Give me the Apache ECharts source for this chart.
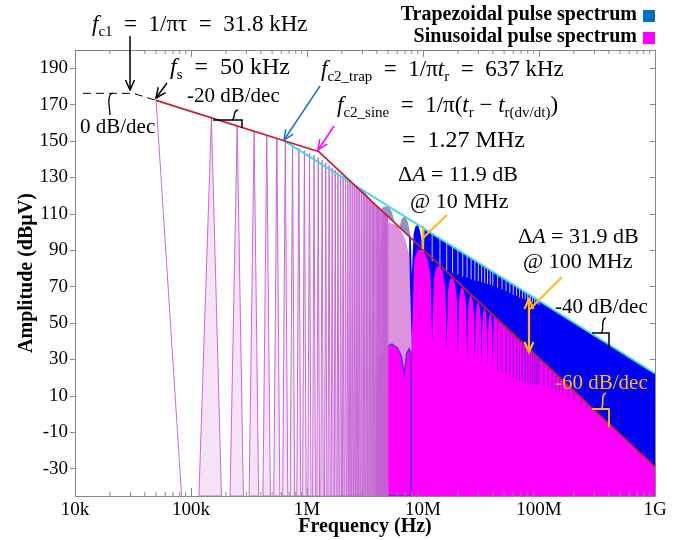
<!DOCTYPE html>
<html>
<head>
<meta charset="utf-8">
<script src="https://cdn.jsdelivr.net/npm/echarts@6/dist/echarts.min.js"></script>
<style>
  html, body { margin: 0; padding: 0; background: #fff; }
  #main { width: 696px; height: 540px; }
</style>
</head>
<body>
<div id="main"></div>
<script>
// ---- data ----
// x ticks (Hz) and their labels
var xTickHz = [1e4, 1e5, 1e6, 1e7, 1e8, 1e9];
var xTickText = ['10k', '100k', '1M', '10M', '100M', '1G'];
var minorMult = [2, 3, 4, 5, 6, 7, 8, 9];
var yTicks = [-30, -10, 10, 30, 50, 70, 90, 110, 130, 150, 170, 190];

// asymptotes (Hz, dBuV)
var flatAsymptote = [[11.7e3, 176.2], [31.8e3, 176.2], [50e3, 172.3]];
var sineEnvelope = [[50e3, 172.3], [1.27e6, 144.1], [1e9, -29]];
var trapEnvelope = [[0.637e6, 150.1], [1e9, 22.3]];

// odd harmonics of the 50 kHz pulse train (kHz) and their peak level (dBuV)
var harmonicKHz = [50, 150, 250, 350, 450, 550, 650, 750, 850, 950,
  1050, 1150, 1250, 1350, 1450, 1550, 1650, 1750, 1850, 1950,
  2050, 2150, 2250, 2350, 2450, 2550, 2650, 2750, 2850, 2950,
  3050, 3150, 3250, 3350, 3450, 3550, 3650, 3750, 3850, 3950,
  4050, 4150, 4250, 4350, 4450, 4550, 4650, 4750, 4850, 4950];
var harmonicPeak = [172.3, 162.8, 158.3, 155.4, 153.2, 151.5, 150.0, 148.0, 146.2, 144.7,
  143.4, 142.2, 141.0, 139.5, 138.0, 136.6, 135.3, 134.0, 132.8, 131.7,
  130.6, 129.6, 128.6, 127.6, 127.0, 125.9, 124.9, 124.0, 123.0, 122.1,
  121.3, 120.4, 119.6, 118.8, 118.1, 117.3, 116.6, 115.9, 115.2, 114.5,
  113.9, 113.2, 112.6, 112.0, 111.4, 110.8, 110.3, 109.7, 109.2, 108.6];

// trapezoidal spectrum: lobes that rise above the sine envelope (MHz, dBuV)
var trapLobes = [[2.5, 126.4], [2.8, 123.9], [3.1, 122.5], [3.4, 119.2], [3.7, 116.2], [4, 114.2],
  [4.3, 112.4], [4.6, 113.9], [5, 114.3], [5.4, 111.2], [5.7, 105], [6, 103.6],
  [6.3, 103.3], [6.6, 107.7], [7, 108.5], [7.4, 105.7], [7.7, 99.8], [7.85, 97],
  [7.6, 97.5], [2.5, 126.4]];
// trapezoidal spectrum above 8 MHz (MHz, dBuV)
var trapBody = [[7.6, -45], [7.6, 97.5], [7.85, 97], [8, 76],
  [8.3, 99], [8.6, 103], [9, 104], [9.4, 101], [9.7, 96], [10, 74],
  [10.3, 101.5], [1000, 22.3], [1000, -45]];
// trapezoidal spectrum nulls above 10 MHz (MHz, top, bottom)
var trapNulls = [[12, 99, 84], [14, 96.5, 81], [16, 94, 79], [18, 92, 77.5], [20, 90, 76.5],
  [22, 88.5, 75.5], [24, 87, 75], [26, 85.5, 74], [28, 84.5, 73.5], [30, 83, 73],
  [32, 82, 72.5], [34, 81, 72], [36, 80, 71.5], [38, 79, 71], [40, 78, 70.5],
  [44, 76.5, 69.5], [48, 75, 68.5], [52, 73.5, 67.5], [56, 72.3, 66.5], [60, 71, 65.5],
  [64, 70, 65], [68, 69, 64], [72, 68, 63.5], [76, 67, 63], [80, 66, 62.5],
  [84, 65.3, 62], [88, 64.5, 61.5], [92, 63.7, 61], [96, 63, 60.5], [100, 62.3, 60]];

// sinusoidal spectrum: first lobe 4-8 MHz and the rest (MHz, dBuV)
var sineLobe = [[4.0, -45], [4.0, 70], [4.4, 101.7], [5, 105.4], [6, 103.6], [7, 96.6], [7.6, 87.3],
  [8, 40], [8, -45]];
var sineBody = [[8, -45], [8, 40],
  [8.4, 84.7], [9, 90.1], [10, 90.3], [11, 84.8], [11.6, 76.3], [12, 40],
  [12.4, 74.5], [13, 80.5], [14, 81.6], [15, 76.8], [15.6, 68.5], [16, 35],
  [16.4, 67.2], [17, 73.5], [18, 75.0], [19, 70.6], [19.6, 62.6], [20, 32],
  [20.4, 61.5], [21, 68.0], [22, 69.8], [23, 65.6], [23.6, 57.7], [24, 30],
  [24.4, 56.9], [25, 63.5], [26, 65.4], [27, 61.4], [27.6, 53.7], [28, 28],
  [28.4, 52.9], [29, 59.6], [30, 61.7], [31, 57.8], [31.6, 50.1], [32, 27],
  [32.4, 49.5], [33, 56.2], [34, 58.4], [35, 54.7], [35.6, 47.0], [36, 26],
  [36.4, 46.5], [37, 53.2], [38, 55.5], [39, 51.9], [39.6, 44.3], [40, 25],
  [40.6, 53.5], [1000, -29], [1000, -45]];
var sineFloor = [[4.05, -45], [4.05, 20], [4.3, 31], [4.8, 37], [5.4, 38.5], [6.0, 36.5], [6.5, 32],
  [6.9, 22], [7.2, 33], [7.6, 36], [7.9, 33], [7.9, -45]];
// sinusoidal spectrum nulls above 40 MHz (MHz, top, bottom)
var sineNulls = [[44, 51, 24], [48, 49, 23], [52, 47, 22], [56, 45, 21], [60, 43, 20],
  [64, 41.5, 19], [68, 40, 18.5], [72, 38.5, 18], [76, 37, 17.5], [80, 35.5, 17],
  [84, 34.5, 17], [88, 33, 16.5], [92, 32, 16], [96, 31, 16], [100, 30, 16],
  [110, 28, 15.5], [120, 25, 15], [130, 23, 14], [140, 21, 13], [150, 19.5, 12],
  [160, 17.5, 11], [180, 14.5, 9], [200, 12, 7.5], [230, 8.5, 5], [260, 5.5, 3]];

var SERIF = "'Liberation Serif', 'Times New Roman', serif";
var Y_MIN = -45, Y_MAX = 200;
var SPIKE_HALF = 33e3;
var SP = '\u2002';

var chart = echarts.init(document.getElementById('main'));

function polySeries(outline, style, z) {
  return {
    type: 'custom', silent: true, clip: true, z: z || 2, data: [[1e6, 0]],
    renderItem: function (params, api) {
      var pts = outline.map(function (p) { return api.coord([p[0] * 1e6, p[1]]); });
      return { type: 'polygon', shape: { points: pts }, style: style };
    }
  };
}
function nullSeries(list, color, z) {
  return {
    type: 'custom', silent: true, clip: true, z: z || 2,
    data: list.map(function (d) { return [d[0] * 1e6, d[1], d[2]]; }),
    renderItem: function (params, api) {
      var a = api.coord([api.value(0), api.value(1)]);
      var b = api.coord([api.value(0), api.value(2)]);
      return { type: 'line', shape: { x1: a[0], y1: a[1], x2: b[0], y2: b[1] },
        style: { stroke: color, lineWidth: 1 } };
    }
  };
}

var minorTicks = [];
xTickHz.slice(0, 5).forEach(function (d) {
  minorMult.forEach(function (m) { minorTicks.push([d * m, 0]); });
});

// rich text helpers
function rich(size) {
  var lh = size + 7;
  return {
    n: { fontFamily: SERIF, fontSize: size, lineHeight: lh, verticalAlign: 'middle', fill: '#000' },
    i: { fontFamily: SERIF, fontSize: size, fontStyle: 'italic', lineHeight: lh, verticalAlign: 'middle', fill: '#000' },
    s: { fontFamily: SERIF, fontSize: Math.round(size * 0.64), lineHeight: Math.round(size * 0.64), verticalAlign: 'bottom', fill: '#000' }
  };
}
function richText(x, y, text, size) {
  return { type: 'text', z: 100, x: x, y: y,
    style: { text: text, rich: rich(size), align: 'left', verticalAlign: 'top' } };
}
function plainText(x, y, text, size, color, extra) {
  var st = { text: text, x: x, y: y, fontFamily: SERIF, fontSize: size, fill: color || '#000',
    align: 'left', verticalAlign: 'middle' };
  if (extra) Object.assign(st, extra);
  return { type: 'text', z: 100, style: st };
}
function line(x1, y1, x2, y2, color, w) {
  return { type: 'line', z: 100, shape: { x1: x1, y1: y1, x2: x2, y2: y2 },
    style: { stroke: color, lineWidth: w || 1.3 } };
}
function head(x, y, fx, fy, color, w) {
  var dx = x - fx, dy = y - fy, d = Math.sqrt(dx * dx + dy * dy);
  var ux = dx / d, uy = dy / d, len = 10, half = 4.5;
  var bx = x - ux * len, by = y - uy * len;
  return { type: 'polyline', z: 100,
    shape: { points: [[bx - uy * half, by + ux * half], [x, y], [bx + uy * half, by - ux * half]] },
    style: { stroke: color, lineWidth: w || 1.5, fill: null } };
}
function arrow(x1, y1, x2, y2, color, w) {
  return [line(x1, y1, x2, y2, color, w), head(x2, y2, x1, y1, color, w)];
}
function curve(x1, y1, c1x, c1y, c2x, c2y, x2, y2, color, w) {
  return { type: 'bezierCurve', z: 100,
    shape: { x1: x1, y1: y1, cpx1: c1x, cpy1: c1y, cpx2: c2x, cpy2: c2y, x2: x2, y2: y2 },
    style: { stroke: color, lineWidth: w || 1.3, fill: null } };
}

var ORANGE = '#ffb81c';
var graphics = [].concat(
  [
    richText(92, 10, '{i|f}{s|c1}{n|' + SP + '=' + SP + '1/πτ' + SP + '=' + SP + '31.8 kHz}', 23),
    richText(170, 52, '{i|f}{s|s}{n|' + SP + '=' + SP + '50 kHz}', 24),
    richText(321, 55, '{i|f}{s|c2_trap}{n|' + SP + '=' + SP + '1/π}{i|t}{s|r}{n|' + SP + '=' + SP + '637 kHz}', 23),
    richText(337, 91, '{i|f}{s|c2_sine}{n|' + SP + '=' + SP + '1/π(}{i|t}{s|r}{n| − }{i|t}{s|r(dv/dt)}{n|)}', 23),
    richText(402, 125, '{n|=' + SP + '1.27 MHz}', 24),
    richText(398, 161, '{n|Δ}{i|A}{n| = 11.9 dB}', 22),
    richText(410, 188, '{n|@ 10 MHz}', 22),
    richText(518, 223, '{n|Δ}{i|A}{n| = 31.9 dB}', 22),
    richText(523, 248, '{n|@ 100 MHz}', 22),
    plainText(187, 96, '-20 dB/dec', 21),
    plainText(80, 127, '0 dB/dec', 21),
    plainText(555, 307, '-40 dB/dec', 21),
    plainText(555, 383, '-60 dB/dec', 21, ORANGE),
    plainText(637, 15, 'Trapezoidal pulse spectrum', 20, '#000', { align: 'right', fontWeight: 'bold' }),
    plainText(637, 37, 'Sinusoidal pulse spectrum', 20, '#000', { align: 'right', fontWeight: 'bold' }),
    { type: 'rect', z: 100, shape: { x: 643, y: 10, width: 12, height: 12 }, style: { fill: '#0070c0' } },
    { type: 'rect', z: 100, shape: { x: 643, y: 32, width: 12, height: 12 }, style: { fill: '#ff00ff' } }
  ],
  arrow(130, 36, 130, 90, '#000', 1.5),
  arrow(167, 83, 156, 98, '#000', 1.5),
  arrow(320, 86, 284, 140, '#1a73c8', 1.5),
  arrow(334, 126, 318, 150, '#ff00ff', 1.5),
  [
    { type: 'polyline', z: 100, shape: { points: [[213, 120], [242, 120], [242, 128]] }, style: { stroke: '#000', lineWidth: 1.5, fill: null } },
    curve(238, 110, 232, 111, 236, 118, 232, 120, '#000'),
    curve(113, 93, 106, 95, 110, 108, 110, 115, '#000'),
    { type: 'polyline', z: 100, shape: { points: [[592, 333], [609, 333], [609, 347]] }, style: { stroke: '#000', lineWidth: 1.5, fill: null } },
    curve(606, 318, 600, 319, 605, 330, 601, 333, '#000'),
    { type: 'polyline', z: 100, shape: { points: [[592, 409], [609, 409], [609, 427]] }, style: { stroke: ORANGE, lineWidth: 1.8, fill: null } },
    curve(606, 393, 600, 394, 605, 406, 601, 409, ORANGE, 1.6),
    line(447, 215, 423, 238, ORANGE, 2),
    line(423, 226, 423, 249, ORANGE, 2.2),
    line(562, 277, 530, 309, ORANGE, 2),
    line(529, 300, 529, 351, ORANGE, 2.2),
    head(529, 299, 529, 320, ORANGE, 2.2),
    head(529, 352, 529, 330, ORANGE, 2.2)
  ]
);

var axisGray = '#888';
var option = {
  animation: false,
  backgroundColor: '#fff',
  grid: { left: 75, right: 41, top: 50, bottom: 44, outerBoundsMode: 'none', containLabel: false },
  xAxis: [{
    type: 'log', logBase: 10, min: 1e4, max: 1e9, position: 'bottom',
    name: 'Frequency (Hz)', nameLocation: 'middle', nameGap: 21, nameMoveOverlap: false,
    nameTextStyle: { fontFamily: SERIF, fontSize: 20, fontWeight: 'bold', color: '#000' },
    axisLine: { onZero: false, lineStyle: { color: axisGray, width: 1 } },
    axisTick: { inside: true, length: 8, lineStyle: { color: axisGray } },
    axisLabel: { fontFamily: SERIF, fontSize: 19, color: '#000', margin: 5,
      formatter: function (v) { return xTickText[Math.round(Math.log10(v)) - 4]; } },
    splitLine: { show: false }
  }, {
    type: 'log', logBase: 10, min: 1e4, max: 1e9, position: 'top',
    axisLine: { onZero: false, lineStyle: { color: axisGray, width: 1 } },
    axisTick: { inside: true, length: 7, lineStyle: { color: axisGray } },
    axisLabel: { show: false }, splitLine: { show: false }
  }],
  yAxis: [{
    type: 'value', min: Y_MIN, max: Y_MAX, position: 'left',
    name: 'Amplitude (dBµV)', nameLocation: 'middle', nameGap: 38, nameMoveOverlap: false,
    nameTextStyle: { fontFamily: SERIF, fontSize: 20, fontWeight: 'bold', color: '#000' },
    axisLine: { show: true, onZero: false, lineStyle: { color: axisGray, width: 1 } },
    axisTick: { show: true, length: 5, customValues: yTicks, lineStyle: { color: axisGray } },
    axisLabel: { fontFamily: SERIF, fontSize: 19, color: '#000', margin: 7, customValues: yTicks },
    splitLine: { show: false }
  }, {
    type: 'value', min: Y_MIN, max: Y_MAX, position: 'right',
    axisLine: { show: true, onZero: false, lineStyle: { color: axisGray, width: 1 } },
    axisTick: { show: true, inside: true, length: 5, customValues: yTicks, lineStyle: { color: axisGray } },
    axisLabel: { show: false }, splitLine: { show: false }
  }],
  series: [
    polySeries(trapLobes, { fill: '#9494c4' }),
    polySeries(trapBody, { fill: '#0000f5' }),
    nullSeries(trapNulls, 'rgba(205,205,228,0.95)'),
    polySeries(sineLobe, { fill: '#dc92dc' }),
    polySeries(sineBody, { fill: '#ff00ff' }),
    polySeries(sineFloor, { fill: '#ff00ff', stroke: 'rgba(95,35,220,0.9)', lineWidth: 1.5 }, 5),
    {
      type: 'custom', silent: true, clip: true, z: 6,
      data: harmonicKHz.map(function (f, i) { return [f * 1e3, harmonicPeak[i]]; }),
      renderItem: function (params, api) {
        var f = api.value(0);
        var top = api.coord([f, api.value(1)]);
        var right = api.coord([f + SPIKE_HALF, Y_MIN]);
        if (params.dataIndex === 0) {
          return { type: 'line', shape: { x1: top[0], y1: top[1], x2: right[0], y2: right[1] },
            style: { stroke: 'rgba(196,100,212,0.95)', lineWidth: 1 } };
        }
        var left = api.coord([f - SPIKE_HALF, Y_MIN]);
        return { type: 'polygon', shape: { points: [left, top, right] },
          style: { fill: 'rgba(230,178,230,0.38)', stroke: 'rgba(196,100,212,0.95)', lineWidth: 1 } };
      }
    },
    nullSeries(sineNulls, 'rgba(105,25,205,0.85)', 6),
    {
      type: 'line', data: flatAsymptote, showSymbol: false, silent: true, z: 7,
      lineStyle: { color: '#000', width: 1, type: [8, 5] }
    },
    {
      type: 'line', data: trapEnvelope, showSymbol: false, silent: true, z: 7,
      lineStyle: { color: '#45d8e6', width: 2 }
    },
    {
      type: 'line', data: sineEnvelope, showSymbol: false, silent: true, z: 8,
      lineStyle: { color: '#c81e2e', width: 1.7 }
    },
    {
      type: 'custom', silent: true, clip: false, z: 8, data: minorTicks,
      renderItem: function (params, api) {
        var x = api.coord([api.value(0), 0])[0];
        var cs = params.coordSys;
        return { type: 'group', children: [
          { type: 'line', shape: { x1: x, y1: cs.y + cs.height, x2: x, y2: cs.y + cs.height - 4 }, style: { stroke: axisGray, lineWidth: 1 } },
          { type: 'line', shape: { x1: x, y1: cs.y, x2: x, y2: cs.y + 4 }, style: { stroke: axisGray, lineWidth: 1 } }
        ] };
      }
    }
  ],
  graphic: graphics
};

chart.setOption(option);
</script>
</body>
</html>
